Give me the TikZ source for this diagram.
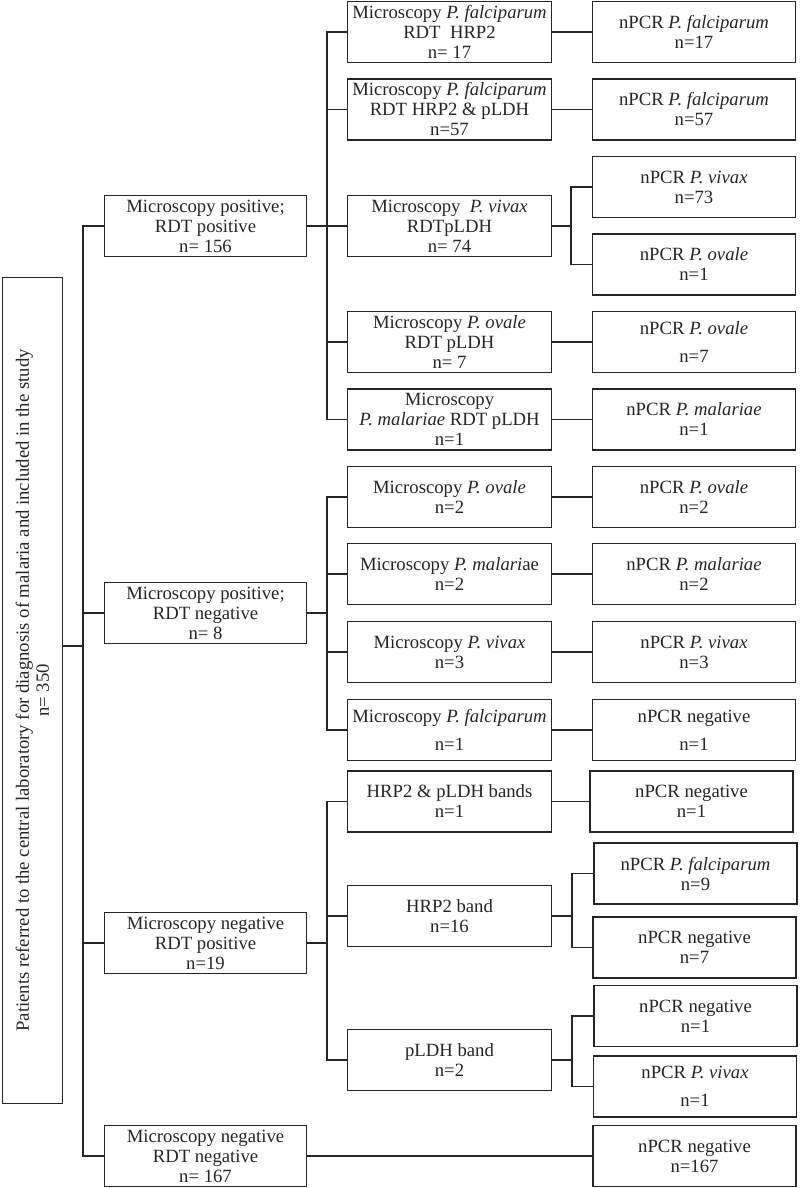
\documentclass[tikz,border=0pt]{standalone}
\usepackage{fontspec}
\setmainfont{Liberation Serif}
\usetikzlibrary{calc}
\definecolor{ink}{HTML}{262626}
\begin{document}
\begin{tikzpicture}[x=1pt,y=-1pt,
  box/.style={draw=ink,line width=1.6pt,rectangle,inner sep=0pt,align=center,
    minimum height=61pt,text=ink,
    font=\fontsize{18.7}{20}\selectfont},
  lone/.style={box,minimum width=202pt},
  ltwo/.style={box,minimum width=204pt},
  lthree/.style={box,minimum width=203pt},
  con/.style={draw=ink,line width=1.4pt}]
\useasboundingbox (0,0) rectangle (800,1188);
% root
\node[draw=ink,line width=1.6pt,rectangle,inner sep=0pt,align=center,text=ink,
  font=\fontsize{18.7}{20}\selectfont,
  rotate=90,minimum width=826pt,minimum height=60pt] (root) at (32.5,690.5)
  {Patients referred to the central laboratory for diagnosis of malaria and included in the study\\ n= 350};
% level 1
\node[lone] (l1) at (205.5,226) {Microscopy positive;\\RDT positive\\n= 156};
\node[lone] (l2) at (205.5,613) {Microscopy positive;\\RDT negative\\n= 8};
\node[lone] (l3) at (205.5,943) {Microscopy negative\\RDT positive\\n=19};
\node[lone] (l4) at (205.5,1156) {Microscopy negative\\RDT negative\\n= 167};
% level 2
\node[ltwo] (a1) at (449.5,32) {Microscopy \textit{P. falciparum}\\RDT\ \ HRP2\\n= 17};
\node[ltwo] (a2) at (449.5,109.5) {Microscopy \textit{P. falciparum}\\RDT HRP2 \& pLDH\\n=57};
\node[ltwo] (a3) at (449.5,226) {Microscopy\ \ \textit{P. vivax}\\RDTpLDH\\n= 74};
\node[ltwo] (a4) at (449.5,342) {Microscopy \textit{P. ovale}\\RDT pLDH\\n= 7};
\node[ltwo] (a5) at (449.5,419.5) {Microscopy\\\textit{P. malariae} RDT pLDH\\n=1};
\node[ltwo] (b1) at (449.5,497) {Microscopy \textit{P. ovale}\\n=2};
\node[ltwo] (b2) at (449.5,574) {Microscopy \textit{P. malari}ae\\n=2};
\node[ltwo] (b3) at (449.5,652) {Microscopy \textit{P. vivax}\\n=3};
\node[ltwo] (b4) at (449.5,730) {Microscopy \textit{P. falciparum}\\[8pt]n=1};
\node[ltwo] (c1) at (449.5,801.5) {HRP2 \& pLDH bands\\n=1};
\node[ltwo] (c2) at (449.5,916) {HRP2 band\\n=16};
\node[ltwo] (c3) at (449.5,1060) {pLDH band\\n=2};
% level 3
\node[lthree] (a1r) at (694,32) {nPCR \textit{P. falciparum}\\n=17};
\node[lthree] (a2r) at (694,109.5) {nPCR \textit{P. falciparum}\\n=57};
\node[lthree] (a3ra) at (694,187) {nPCR \textit{P. vivax}\\n=73};
\node[lthree] (a3rb) at (694,264.5) {nPCR \textit{P. ovale}\\n=1};
\node[lthree] (a4r) at (694,342) {nPCR \textit{P. ovale}\\[8pt]n=7};
\node[lthree] (a5r) at (694,419.5) {nPCR \textit{P. malariae}\\n=1};
\node[lthree] (b1r) at (694,497) {nPCR \textit{P. ovale}\\n=2};
\node[lthree] (b2r) at (694,574) {nPCR \textit{P. malariae}\\n=2};
\node[lthree] (b3r) at (694,652) {nPCR \textit{P. vivax}\\n=3};
\node[lthree] (b4r) at (694,730) {nPCR negative\\[8pt]n=1};
\node[lthree] (c1r) at (691.5,801.5) {nPCR negative\\n=1};
\node[lthree] (c2ra) at (695.5,873.5) {nPCR \textit{P. falciparum}\\n=9};
\node[lthree] (c2rb) at (694.5,947.5) {nPCR negative\\n=7};
\node[lthree] (c3ra) at (695.5,1016) {nPCR negative\\n=1};
\node[lthree] (c3rb) at (695,1086.5) {nPCR \textit{P. vivax}\\[8pt]n=1};
\node[lthree] (c4r) at (694.5,1156) {nPCR negative\\n=167};
% bus coordinates
\coordinate (trunk) at (83,0);
\coordinate (busA) at (327,0);
\coordinate (subA) at (571,0);
\coordinate (subC2) at (572,0);
\coordinate (subC3) at (572,0);
\path (root.south) ++(0,-44.5) coordinate (rootout);
% root to trunk
\draw[con] (rootout) -- (rootout -| trunk);
\draw[con] (l1.west) -- (l1.west -| trunk) -- (l4.west -| trunk) -- (l4.west);
\draw[con] (l2.west) -- (l2.west -| trunk);
\draw[con] (l3.west) -- (l3.west -| trunk);
% group A
\draw[con] (l1.east) -- (l1.east -| busA);
\draw[con] (a1.west) -- (a1.west -| busA) -- (a5.west -| busA) -- (a5.west);
\foreach \n in {a2,a3,a4} \draw[con] (\n.west) -- (\n.west -| busA);
% group B
\draw[con] (l2.east) -- (l2.east -| busA);
\draw[con] (b1.west) -- (b1.west -| busA) -- (b4.west -| busA) -- (b4.west);
\foreach \n in {b2,b3} \draw[con] (\n.west) -- (\n.west -| busA);
% group C
\draw[con] (l3.east) -- (l3.east -| busA);
\draw[con] (c1.west) -- (c1.west -| busA) -- (c3.west -| busA) -- (c3.west);
\draw[con] (c2.west) -- (c2.west -| busA);
% level 2 to level 3
\draw[con] (a1.east) -- (a1r.west);
\draw[con] (a2.east) -- (a2r.west);
\draw[con] (a4.east) -- (a4r.west);
\draw[con] (a5.east) -- (a5r.west);
\draw[con] (b1.east) -- (b1r.west);
\draw[con] (b2.east) -- (b2r.west);
\draw[con] (b3.east) -- (b3r.west);
\draw[con] (b4.east) -- (b4r.west);
\draw[con] (c1.east) -- (c1r.west);
\draw[con] (a3.east) -- (a3.east -| subA);
\draw[con] (a3ra.west) -- (a3ra.west -| subA) -- (a3rb.west -| subA) -- (a3rb.west);
\draw[con] (c2.east) -- (c2.east -| subC2);
\draw[con] (c2ra.west) -- (c2ra.west -| subC2) -- (c2rb.west -| subC2) -- (c2rb.west);
\draw[con] (c3.east) -- (c3.east -| subC3);
\draw[con] (c3ra.west) -- (c3ra.west -| subC3) -- (c3rb.west -| subC3) -- (c3rb.west);
\draw[con] (l4.east) -- (c4r.west);
\end{tikzpicture}
\end{document}
